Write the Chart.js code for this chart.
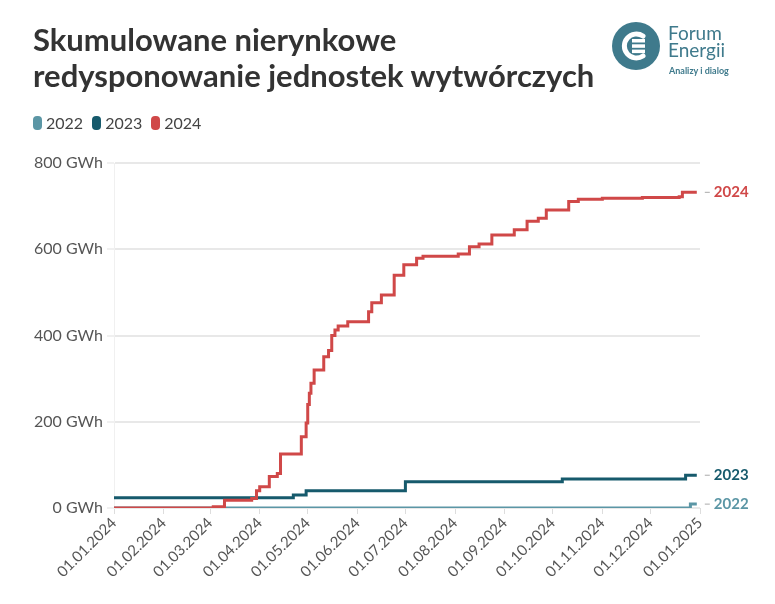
<!DOCTYPE html>
<html><head><meta charset="utf-8">
<script src="https://cdn.jsdelivr.net/npm/chart.js@4.4.1/dist/chart.umd.min.js"></script>
<style>
html,body{margin:0;padding:0;background:#fff;width:775px;height:604px;overflow:hidden;font-family:Lato,"Noto Sans",sans-serif;}
#title{position:absolute;left:33px;top:21px;font-weight:bold;font-size:31px;line-height:36px;color:#333;}
#legend{position:absolute;left:33px;top:113px;font-size:16px;color:#444;display:flex;gap:9px;}
#legend span{display:flex;align-items:center;}
#legend i{display:inline-block;width:9px;height:14px;border-radius:4px;margin-right:4px;}
#logo{position:absolute;left:610px;top:21px;}
#wrap{position:absolute;left:0;top:0;width:775px;height:604px;}
</style></head>
<body>
<div id="wrap"><canvas id="c" width="775" height="604"></canvas></div>
<div id="title">Skumulowane nierynkowe<br>redysponowanie jednostek wytwórczych</div>
<div id="legend"></div>
<svg id="logo" width="140" height="60" viewBox="0 0 140 60">
  <circle cx="26" cy="25" r="24" fill="#3f7a8c"/>
  <path d="M33 15 A12 12 0 1 0 33 35" fill="none" stroke="#fff" stroke-width="5" stroke-linecap="round"/>
  <rect x="22" y="18" width="13" height="3.5" fill="#fff"/>
  <rect x="22" y="23.3" width="13" height="3.5" fill="#fff"/>
  <rect x="22" y="28.6" width="13" height="3.5" fill="#fff"/>
  <text x="58" y="19" font-family="Lato" font-size="19" fill="#3f7a8c">Forum</text>
  <text id="en" x="58" y="36" font-family="Lato" font-size="19" fill="#3f7a8c">Energii</text>
  <text x="59" y="53" font-family="Lato" font-size="9" font-weight="bold" fill="#3f7a8c">Analizy i dialog</text>
</svg>
<script>
// ---- data ----
const seriesNames = ['2022', '2023', '2024'];
const seriesColors = ['#5b96a5', '#165a6c', '#d04848'];

const dates2022 = ['2024-01-01', '2024-12-23', '2024-12-26', '2024-12-30'];
const values2022 = [0, 0, 9, 9];

const dates2023 = ['2024-01-01', '2024-04-22', '2024-04-30', '2024-07-01', '2024-10-07', '2024-12-23', '2024-12-30'];
const values2023 = [24, 30, 40, 61, 67, 76, 76];

const dates2024 = ['2024-01-01', '2024-03-03', '2024-03-10', '2024-03-27', '2024-03-30', '2024-04-01', '2024-04-07',
  '2024-04-12', '2024-04-14', '2024-04-27', '2024-04-30', '2024-05-01', '2024-05-02', '2024-05-03', '2024-05-05',
  '2024-05-11', '2024-05-14', '2024-05-16', '2024-05-18', '2024-05-20', '2024-05-26', '2024-06-08', '2024-06-10',
  '2024-06-16', '2024-06-24', '2024-06-30', '2024-07-08', '2024-07-12', '2024-08-03', '2024-08-10', '2024-08-16',
  '2024-08-24', '2024-09-07', '2024-09-15', '2024-09-22', '2024-09-27', '2024-10-11', '2024-10-17', '2024-11-01',
  '2024-11-26', '2024-12-19', '2024-12-21', '2024-12-30'];
const values2024 = [0, 3, 18, 22, 40, 49, 73,
  80, 125, 165, 197, 240, 266, 289, 320,
  351, 365, 400, 413, 422, 432, 455, 476,
  494, 540, 564, 579, 584, 589, 606, 612,
  633, 645, 665, 672, 691, 711, 716, 718,
  720, 722, 732, 732];

const tickDates = ['2024-01-01', '2024-02-01', '2024-03-01', '2024-04-01', '2024-05-01', '2024-06-01', '2024-07-01',
  '2024-08-01', '2024-09-01', '2024-10-01', '2024-11-01', '2024-12-01', '2025-01-01'];
const yTicks = [0, 200, 400, 600, 800];
const yUnit = ' GWh';

// ---- helpers ----
const base = Date.UTC(2024, 0, 1);
const dayOf = s => { const [y, m, d] = s.split('-').map(Number); return (Date.UTC(y, m - 1, d) - base) / 86400000; };
const fmt = s => { const [y, m, d] = s.split('-'); return d + '.' + m + '.' + y; };
const toPts = (ds, vs) => ds.map((d, i) => ({ x: dayOf(d), y: vs[i] }));
const tickDays = tickDates.map(dayOf);
const tickLabelMap = {}; tickDates.forEach(d => tickLabelMap[dayOf(d)] = fmt(d));

const allDates = [dates2022, dates2023, dates2024];
const allValues = [values2022, values2023, values2024];

// legend
const lg = document.getElementById('legend');
seriesNames.forEach((n, i) => {
  const s = document.createElement('span');
  s.innerHTML = '<i style="background:' + seriesColors[i] + '"></i>' + n;
  lg.appendChild(s);
});

const endLabels = {
  id: 'endLabels',
  afterDatasetsDraw(chart) {
    const ctx = chart.ctx;
    ctx.save();
    chart.data.datasets.forEach((ds, i) => {
      const meta = chart.getDatasetMeta(i);
      const p = meta.data[meta.data.length - 1];
      ctx.strokeStyle = '#aaa';
      ctx.lineWidth = 1;
      ctx.beginPath();
      ctx.moveTo(p.x + 8, p.y); ctx.lineTo(p.x + 13, p.y); ctx.stroke();
      ctx.fillStyle = ds.borderColor;
      ctx.font = 'bold 15px Lato';
      ctx.textBaseline = 'middle';
      ctx.fillText(ds.label, p.x + 17, p.y);
    });
    ctx.restore();
  }
};

new Chart(document.getElementById('c'), {
  type: 'line',
  data: {
    datasets: seriesNames.map((n, i) => ({
      label: n,
      data: toPts(allDates[i], allValues[i]),
      borderColor: seriesColors[i],
      backgroundColor: seriesColors[i],
      borderWidth: 3,
      stepped: true,
      pointRadius: 0,
      fill: false,
      order: 3 - i
    }))
  },
  options: {
    responsive: false,
    animation: false,
    events: [],
    layout: { padding: { top: 163, right: 75, left: 0, bottom: 0 } },
    plugins: { legend: { display: false }, tooltip: { enabled: false } },
    scales: {
      x: {
        type: 'linear',
        min: tickDays[0], max: tickDays[tickDays.length - 1],
        afterBuildTicks: sc => { sc.ticks = tickDays.map(v => ({ value: v })); },
        afterFit: sc => { sc.height = 96; },
        grid: { drawOnChartArea: false, drawTicks: true, tickLength: 6, tickColor: '#dddddd', lineWidth: 1 },
        border: { display: false },
        ticks: {
          autoSkip: false, maxRotation: 45, minRotation: 45, padding: 0,
          color: '#555', font: { family: 'Lato', size: 15 },
          callback: v => tickLabelMap[v] || ''
        }
      },
      y: {
        min: yTicks[0], max: yTicks[yTicks.length - 1],
        afterBuildTicks: sc => { sc.ticks = yTicks.map(v => ({ value: v })); },
        afterFit: sc => { sc.width = 114; },
        grid: { color: '#e8e8e8', lineWidth: 2, drawTicks: true, tickLength: 7, tickColor: '#f0f0f0' },
        border: { display: true, color: '#f0f0f0', width: 1 },
        ticks: { padding: 4, color: '#555', font: { family: 'Lato', size: 16 }, callback: v => v + yUnit }
      }
    }
  },
  plugins: [endLabels]
});
</script>
</body></html>
